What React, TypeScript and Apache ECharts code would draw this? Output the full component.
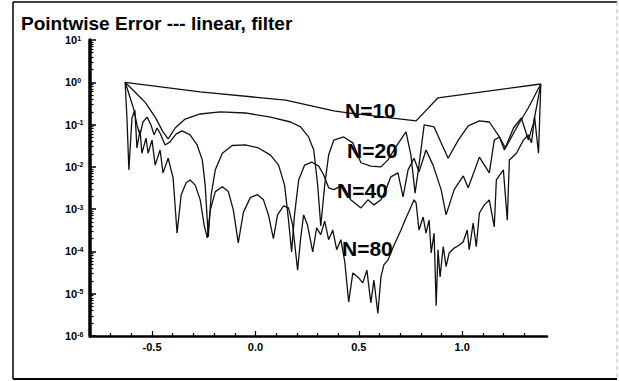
import React, { useEffect, useRef } from 'react';
import * as echarts from 'echarts';

const titleText = 'Pointwise Error --- linear, filter';
const seriesNames = ['N=10', 'N=20', 'N=40', 'N=80'];
const xMajorTicks = [-0.5, 0, 0.5, 1.0];
const xMinorTicks = [-0.7, -0.6, -0.4, -0.3, -0.2, -0.1, 0.1, 0.2, 0.3, 0.4, 0.6, 0.7, 0.8, 0.9, 1.1, 1.2, 1.3];

const n10: [number, number][] = [
  [-0.63, 1.0], [-0.267, 0.59], [0.146, 0.38], [0.379, 0.21], [0.447, 0.19], [0.777, 0.122], [0.883, 0.43], [1.38, 0.91],
];

const n20: [number, number][] = [
  [-0.63, 1.0], [-0.583, 0.59], [-0.534, 0.34], [-0.485, 0.15], [-0.447, 0.067], [-0.422, 0.046], [-0.388, 0.083],
  [-0.34, 0.135], [-0.267, 0.178], [-0.17, 0.2], [-0.049, 0.188], [0.073, 0.15], [0.17, 0.115], [0.218, 0.088],
  [0.257, 0.051], [0.282, 0.025], [0.301, 0.0037], [0.316, 0.0004], [0.335, 0.0037], [0.354, 0.019], [0.379, 0.043],
  [0.427, 0.051], [0.471, 0.037], [0.51, 0.0125], [0.558, 0.0104], [0.607, 0.01], [0.641, 0.0146], [0.68, 0.03],
  [0.728, 0.067], [0.752, 0.019], [0.772, 0.0024], [0.791, 0.011], [0.816, 0.098], [0.864, 0.088], [0.898, 0.037],
  [0.932, 0.016], [0.981, 0.043], [1.029, 0.093], [1.083, 0.122], [1.131, 0.115], [1.18, 0.051], [1.209, 0.028],
  [1.262, 0.083], [1.32, 0.25], [1.38, 0.91],
];

const n40: [number, number][] = [
  [-0.63, 1.0], [-0.607, 0.45], [-0.587, 0.22], [-0.573, 0.098], [-0.558, 0.057], [-0.544, 0.115], [-0.524, 0.15],
  [-0.505, 0.098], [-0.49, 0.057], [-0.476, 0.083], [-0.461, 0.062], [-0.437, 0.033], [-0.413, 0.039], [-0.383, 0.06],
  [-0.354, 0.071], [-0.316, 0.057], [-0.282, 0.033], [-0.257, 0.0146], [-0.243, 0.0037], [-0.228, 0.00022],
  [-0.214, 0.0022], [-0.194, 0.0085], [-0.16, 0.021], [-0.112, 0.032], [-0.049, 0.033], [0.015, 0.028], [0.073, 0.019],
  [0.112, 0.011], [0.141, 0.0037], [0.16, 0.00055], [0.175, 0.000097], [0.189, 0.00073], [0.209, 0.0049], [0.238, 0.011],
  [0.272, 0.013], [0.306, 0.0104], [0.33, 0.0065], [0.354, 0.0032], [0.379, 0.0029], [0.422, 0.0037], [0.461, 0.00166],
  [0.51, 0.00107], [0.544, 0.00166], [0.573, 0.00126], [0.607, 0.00166], [0.631, 0.0029], [0.655, 0.0058], [0.689, 0.0072],
  [0.714, 0.00195], [0.738, 0.0085], [0.767, 0.016], [0.791, 0.0076], [0.825, 0.025], [0.859, 0.011], [0.898, 0.0029],
  [0.922, 0.00073], [0.961, 0.0029], [1.005, 0.0061], [1.029, 0.0032], [1.083, 0.017], [1.131, 0.0072], [1.155, 0.043],
  [1.18, 0.051], [1.204, 0.025], [1.248, 0.083], [1.286, 0.143], [1.32, 0.043], [1.345, 0.11], [1.38, 0.91],
];

const n80: [number, number][] = [
  [-0.63, 1.0], [-0.621, 0.13], [-0.612, 0.0085], [-0.597, 0.143], [-0.583, 0.22], [-0.573, 0.028], [-0.558, 0.074],
  [-0.549, 0.021], [-0.529, 0.048], [-0.519, 0.021], [-0.5, 0.043], [-0.485, 0.011], [-0.461, 0.025], [-0.447, 0.0072],
  [-0.422, 0.016], [-0.398, 0.0055], [-0.379, 0.00027], [-0.359, 0.0022], [-0.335, 0.0042], [-0.316, 0.0049],
  [-0.291, 0.0037], [-0.267, 0.00166], [-0.248, 0.00042], [-0.233, 0.00021], [-0.218, 0.00096], [-0.194, 0.0026],
  [-0.16, 0.0034], [-0.131, 0.0026], [-0.107, 0.00096], [-0.083, 0.00016], [-0.058, 0.00085], [-0.024, 0.0019],
  [0.01, 0.0022], [0.039, 0.00166], [0.063, 0.00073], [0.087, 0.0002], [0.107, 0.00073], [0.136, 0.0012], [0.16, 0.00107],
  [0.18, 0.00042], [0.204, 0.000036], [0.218, 0.00019], [0.233, 0.00073], [0.252, 0.00042], [0.277, 0.000097],
  [0.296, 0.00036], [0.316, 0.00025], [0.335, 0.00052], [0.354, 0.00019], [0.374, 0.00032], [0.393, 0.00011],
  [0.413, 0.00019], [0.432, 0.000057], [0.451, 0.0000064], [0.471, 0.000031], [0.495, 0.000025], [0.519, 0.000018],
  [0.539, 0.000036], [0.558, 0.0000061], [0.573, 0.000021], [0.592, 0.0000034], [0.607, 0.000025], [0.621, 0.000048],
  [0.641, 0.000063], [0.67, 0.00014], [0.704, 0.00032], [0.728, 0.00062], [0.752, 0.00113], [0.767, 0.00166],
  [0.777, 0.0014], [0.791, 0.00032], [0.811, 0.00065], [0.825, 0.00027], [0.84, 0.00055], [0.85, 0.000092],
  [0.864, 0.00027], [0.874, 0.0000052], [0.883, 0.00011], [0.893, 0.000025], [0.908, 0.00013], [0.922, 0.000044],
  [0.937, 0.000092], [0.961, 0.00012], [0.985, 0.00014], [1.005, 0.00017], [1.024, 0.00032], [1.034, 0.00011],
  [1.053, 0.00047], [1.068, 0.00013], [1.083, 0.00081], [1.107, 0.00126], [1.131, 0.00166], [1.155, 0.00038],
  [1.165, 0.0049], [1.199, 0.0085], [1.218, 0.00055], [1.228, 0.0146], [1.262, 0.021], [1.296, 0.043], [1.32, 0.057],
  [1.335, 0.037], [1.35, 0.15], [1.369, 0.021], [1.38, 0.91],
];

const seriesData = [n10, n20, n40, n80];
const labelPositions: [number, number][] = [[345, 110], [347, 150], [337, 190], [342, 248]];

const FONT = '"Liberation Sans", Arial, Helvetica, sans-serif';

export default function App() {
  const ref = useRef<HTMLDivElement>(null);
  useEffect(() => {
    if (!ref.current) return;
    const chart = echarts.init(ref.current, undefined, { renderer: 'svg' });
    const option: any = {
      animation: false,
      backgroundColor: '#fff',
      grid: { left: 90, right: 72, top: 40, bottom: 45 },
      xAxis: [
        {
          type: 'value',
          min: -0.8,
          max: 1.41,
          axisLine: { show: true, onZero: false, lineStyle: { color: '#000', width: 2.5 } },
          axisTick: { show: true, inside: true, length: 5, customValues: xMajorTicks, lineStyle: { color: '#000', width: 1.2 } },
          axisLabel: {
            customValues: xMajorTicks,
            margin: 5,
            color: '#000',
            fontFamily: FONT,
            fontWeight: 'bold',
            fontSize: 11,
            formatter: (v: number) => v.toFixed(1),
          },
          splitLine: { show: false },
        },
        {
          type: 'value',
          position: 'bottom',
          min: -0.8,
          max: 1.41,
          axisLine: { show: false, onZero: false },
          axisTick: { show: true, inside: true, length: 3, customValues: xMinorTicks, lineStyle: { color: '#000', width: 1.2 } },
          axisLabel: { show: false },
          splitLine: { show: false },
        },
      ],
      yAxis: {
        type: 'log',
        min: 1e-6,
        max: 10,
        interval: 1,
        splitNumber: 7,
        axisLine: { show: true, onZero: false, lineStyle: { color: '#000', width: 3.5 } },
        axisTick: { show: true, inside: true, length: 6, lineStyle: { color: '#000', width: 1.5 } },
        minorTick: { show: true, splitNumber: 9, length: 3.5, lineStyle: { color: '#000', width: 1.2 } },
        splitLine: { show: false },
        axisLabel: {
          align: 'left',
          margin: 25,
          formatter: (v: number) => `{b|10}{s|${Math.round(Math.log10(v))}}`,
          rich: {
            b: { fontFamily: FONT, fontWeight: 'bold', fontSize: 11, color: '#000', lineHeight: 11 },
            s: { fontFamily: FONT, fontWeight: 'bold', fontSize: 7, color: '#000', verticalAlign: 'top', lineHeight: 11 },
          },
        },
      },
      series: seriesData.map((d, i) => ({
        name: seriesNames[i],
        type: 'line',
        data: d,
        showSymbol: false,
        symbol: 'none',
        silent: true,
        lineStyle: { color: '#111', width: 1.3 },
      })),
      graphic: [
        { type: 'line', shape: { x1: 13, y1: 2, x2: 13, y2: 379 }, style: { stroke: '#000', lineWidth: 1.5 } },
        { type: 'line', shape: { x1: 13, y1: 2, x2: 617, y2: 2 }, style: { stroke: '#000', lineWidth: 1.5 } },
        { type: 'line', shape: { x1: 13, y1: 379, x2: 617, y2: 379 }, style: { stroke: '#000', lineWidth: 2 } },
        { type: 'line', shape: { x1: 617, y1: 2, x2: 617, y2: 379 }, style: { stroke: '#bbb', lineWidth: 1, lineDash: [4, 3] } },
        {
          type: 'text',
          x: 21,
          y: 23,
          style: { text: titleText, fill: '#000', font: `bold 19px ${FONT}`, verticalAlign: 'middle', align: 'left' },
        },
        ...seriesNames.map((name, i) => ({
          type: 'text',
          x: labelPositions[i][0],
          y: labelPositions[i][1],
          z: 10,
          style: { text: name, fill: '#000', font: `bold 21px ${FONT}`, verticalAlign: 'middle', align: 'left' },
        })),
      ],
    };
    chart.setOption(option);
    return () => chart.dispose();
  }, []);
  return <div ref={ref} style={{ position: 'fixed', left: 0, top: 0, width: 619, height: 381 }} />;
}
